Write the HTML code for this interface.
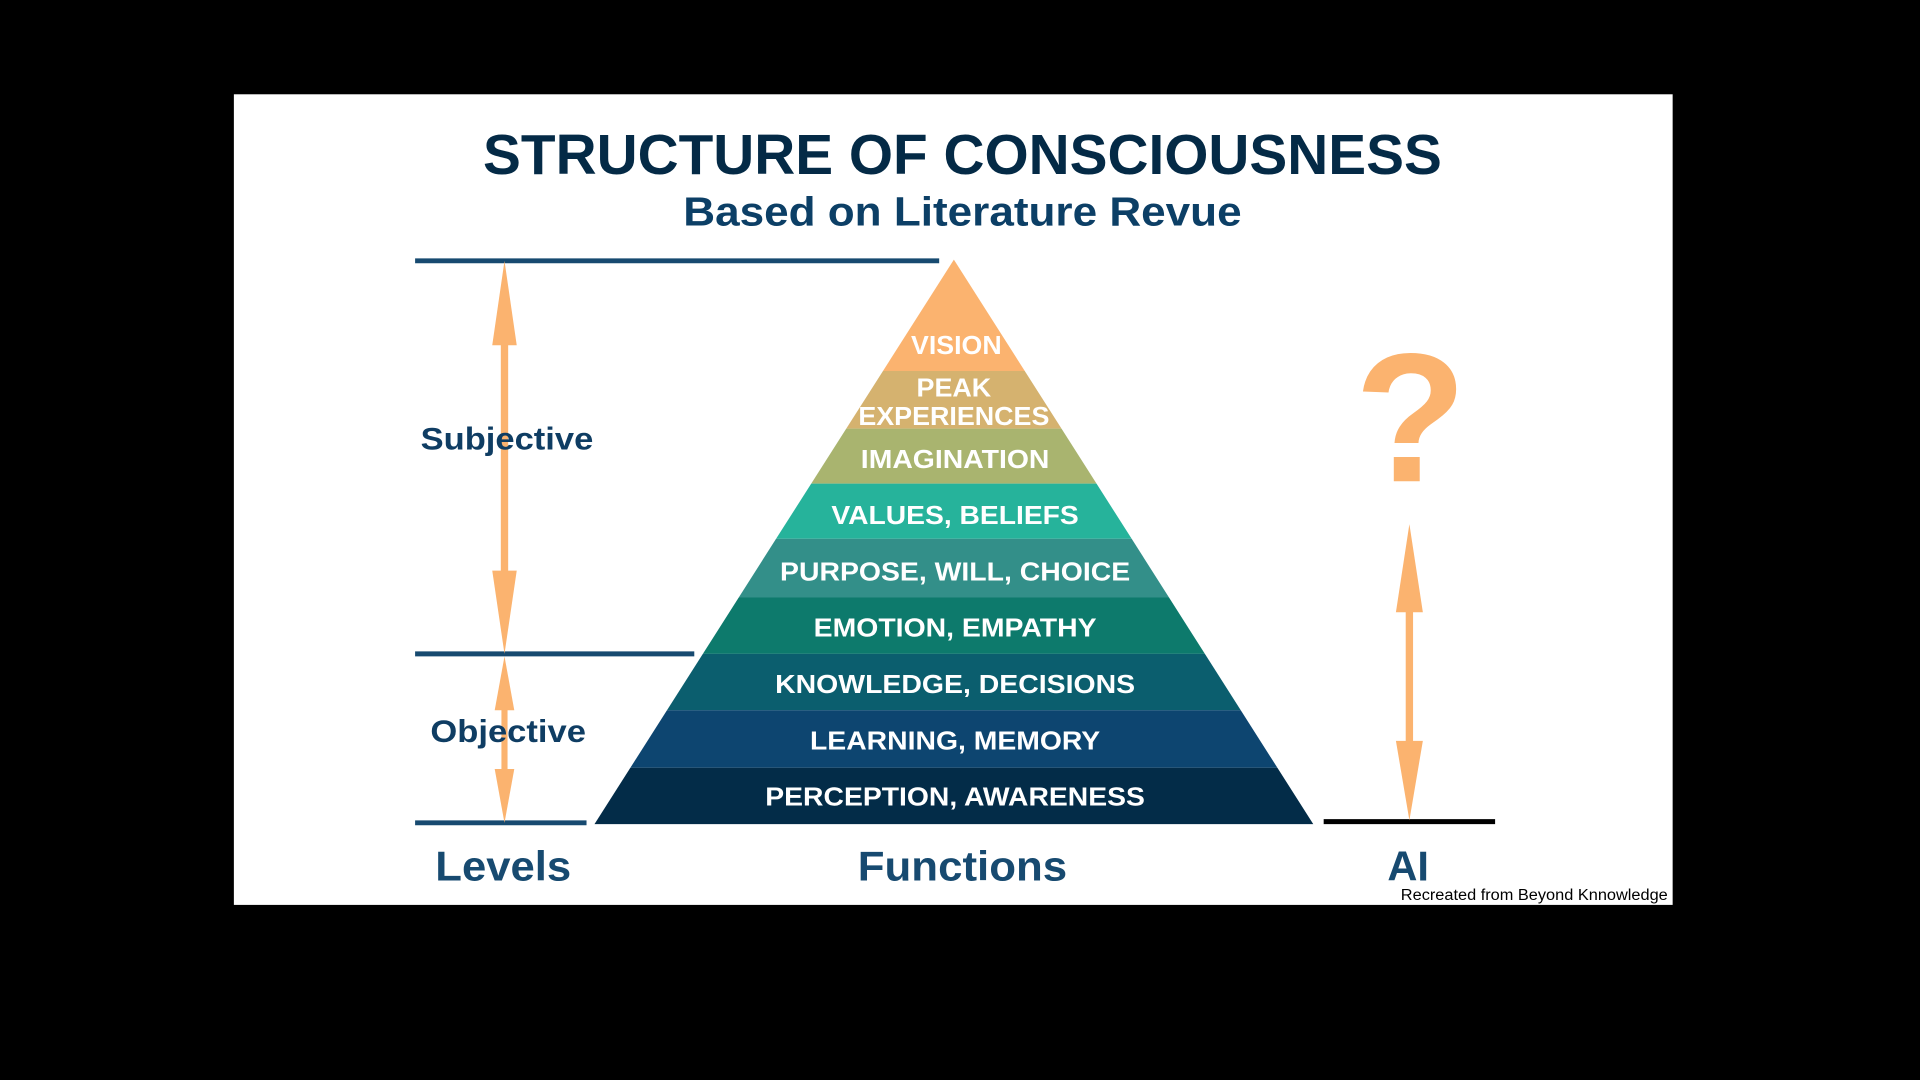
<!DOCTYPE html>
<html><head><meta charset="utf-8"><style>
html,body{margin:0;padding:0;background:#000;}
svg{display:block}
text{font-family:"Liberation Sans",Arial,sans-serif;font-weight:bold}
</style></head><body>
<svg width="1920" height="1080" viewBox="0 0 1568 882" xmlns="http://www.w3.org/2000/svg">
<rect width="1568" height="882" fill="#000"/>
<rect x="191" y="77" width="1175" height="662" fill="#fff"/>
<text x="786" y="142" font-size="46" fill="#042a46" text-anchor="middle" textLength="783" lengthAdjust="spacingAndGlyphs">STRUCTURE OF CONSCIOUSNESS</text>
<text x="786" y="184" font-size="33" fill="#0c3f66" text-anchor="middle" textLength="456" lengthAdjust="spacingAndGlyphs">Based on Literature Revue</text>
<!-- pyramid -->
<polygon points="779,212 836.9,303 721.1,303" fill="#fbb36f"/>
<polygon points="721.1,303 836.9,303 866.9,350 691.1,350" fill="#d5b26f"/>
<polygon points="691.1,350 866.9,350 895.5,395 662.5,395" fill="#a9b46f"/>
<polygon points="662.5,395 895.5,395 924.2,440 633.8,440" fill="#26b39b"/>
<polygon points="633.8,440 924.2,440 954.7,488 603.3,488" fill="#338f89"/>
<polygon points="603.3,488 954.7,488 984,534 574,534" fill="#0d7a6c"/>
<polygon points="574,534 984,534 1013.3,580 544.7,580" fill="#0b5e6e"/>
<polygon points="544.7,580 1013.3,580 1043.2,627 514.8,627" fill="#0d4570"/>
<polygon points="514.8,627 1043.2,627 1072.5,673 485.5,673" fill="#032c48"/>
<g fill="#fff" font-size="21" text-anchor="middle">
<text x="781" y="289" textLength="74" lengthAdjust="spacingAndGlyphs">VISION</text>
<text x="779" y="324" textLength="61" lengthAdjust="spacingAndGlyphs">PEAK</text>
<text x="779" y="347" textLength="156" lengthAdjust="spacingAndGlyphs">EXPERIENCES</text>
<text x="780" y="382" textLength="154" lengthAdjust="spacingAndGlyphs">IMAGINATION</text>
<text x="780" y="428" textLength="202" lengthAdjust="spacingAndGlyphs">VALUES, BELIEFS</text>
<text x="780" y="474" textLength="286" lengthAdjust="spacingAndGlyphs">PURPOSE, WILL, CHOICE</text>
<text x="780" y="520" textLength="231" lengthAdjust="spacingAndGlyphs">EMOTION, EMPATHY</text>
<text x="780" y="566" textLength="294" lengthAdjust="spacingAndGlyphs">KNOWLEDGE, DECISIONS</text>
<text x="780" y="612" textLength="237" lengthAdjust="spacingAndGlyphs">LEARNING, MEMORY</text>
<text x="780" y="658" textLength="310" lengthAdjust="spacingAndGlyphs">PERCEPTION, AWARENESS</text>
</g>
<!-- level lines -->
<g stroke="#174a70" stroke-width="4">
<line x1="339" y1="213" x2="767" y2="213"/>
<line x1="339" y1="534" x2="567" y2="534"/>
<line x1="339" y1="672" x2="479" y2="672"/>
</g>
<line x1="1081" y1="671" x2="1221" y2="671" stroke="#000" stroke-width="4"/>
<!-- arrows -->
<g fill="#fbb36f" stroke="none">
<rect x="409" y="270" width="6" height="210"/>
<polygon points="412,213 422,282 402,282"/>
<polygon points="412,534 422,466 402,466"/>
<rect x="409.5" y="570" width="5" height="70"/>
<polygon points="412,536 420,580 404,580"/>
<polygon points="412,672 420,628 404,628"/>
<rect x="1148" y="490" width="6" height="130"/>
<polygon points="1151,428 1162,500 1140,500"/>
<polygon points="1151,670 1162,605 1140,605"/>
</g>
<text x="414" y="367" font-size="26" fill="#0f3d63" text-anchor="middle" textLength="141" lengthAdjust="spacingAndGlyphs">Subjective</text>
<text x="415" y="606" font-size="26" fill="#0f3d63" text-anchor="middle" textLength="127" lengthAdjust="spacingAndGlyphs">Objective</text>
<text x="1152" y="393" font-size="150" fill="#fbb36f" text-anchor="middle">?</text>
<g font-size="34" fill="#174a70" text-anchor="middle">
<text x="411" y="719" textLength="111" lengthAdjust="spacingAndGlyphs">Levels</text>
<text x="786" y="719" textLength="171" lengthAdjust="spacingAndGlyphs">Functions</text>
<text x="1150" y="719">AI</text>
</g>
<text x="1362" y="735" font-size="13" fill="#000" text-anchor="end" style="font-weight:normal" textLength="218" lengthAdjust="spacingAndGlyphs">Recreated from Beyond Knnowledge</text>
</svg>
</body></html>
